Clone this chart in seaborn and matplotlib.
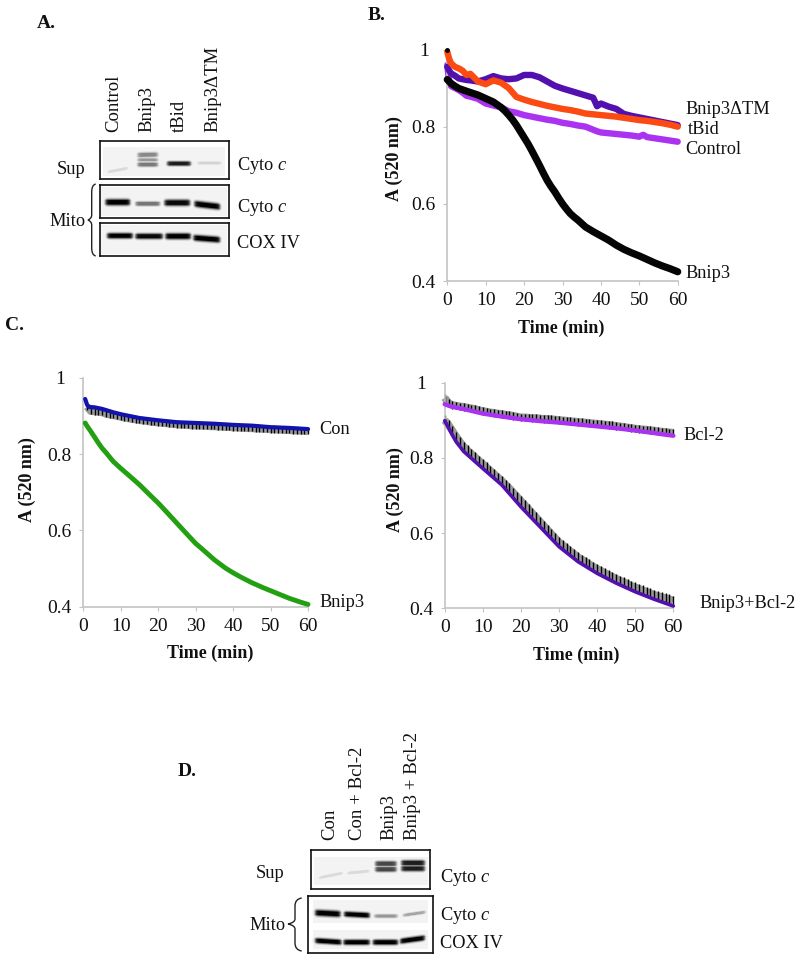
#!/usr/bin/env python3
"""Cytochrome c blots and A520 swelling curves, panels A to D."""

import numpy as np
import matplotlib
matplotlib.use('Agg')
import matplotlib.pyplot as plt
from matplotlib.path import Path
from matplotlib.patches import PathPatch
import seaborn as sns

# Panel B
t_b = [0, 0.5, 1, 2, 3, 4, 5, 6, 8, 10, 12, 14, 16, 18, 20, 22, 24, 26, 28, 30, 32, 34, 36, 38, 39, 40,
       42, 44, 46, 48, 50, 51, 52, 54, 56, 58, 60]
b_control = [0.960, 0.915, 0.905, 0.900, 0.895, 0.888, 0.880, 0.878, 0.872, 0.860, 0.855, 0.850, 0.840, 0.836, 0.830,
             0.826, 0.822, 0.818, 0.815, 0.810, 0.807, 0.803, 0.800, 0.792, 0.788, 0.785, 0.783, 0.781, 0.779, 0.777,
             0.774, 0.779, 0.773, 0.770, 0.767, 0.764, 0.761]
b_delta = [0.955, 0.945, 0.938, 0.932, 0.925, 0.923, 0.921, 0.920, 0.917, 0.923, 0.931, 0.925, 0.923, 0.925, 0.934,
           0.934, 0.928, 0.917, 0.906, 0.899, 0.893, 0.887, 0.881, 0.875, 0.853, 0.860, 0.852, 0.846, 0.833, 0.828,
           0.824, 0.822, 0.820, 0.816, 0.812, 0.808, 0.804]
b_tbid = [0.994, 0.975, 0.964, 0.955, 0.951, 0.945, 0.934, 0.937, 0.917, 0.910, 0.920, 0.914, 0.900, 0.877, 0.870,
          0.864, 0.859, 0.854, 0.850, 0.846, 0.843, 0.839, 0.834, 0.832, 0.831, 0.830, 0.828, 0.826, 0.823, 0.820,
          0.817, 0.816, 0.815, 0.812, 0.809, 0.805, 0.800]
t_bk = [0, 1, 2, 3, 5, 8, 10, 12, 14, 15, 16, 17, 18, 19, 20, 21, 22, 23, 24, 25, 26, 27, 28, 29, 30, 31, 32, 33, 34,
        35, 36, 38, 40, 42, 44, 46, 48, 50, 52, 54, 56, 58, 60]
b_bnip3 = [0.922, 0.912, 0.905, 0.899, 0.892, 0.882, 0.873, 0.864, 0.850, 0.841, 0.830, 0.818, 0.804, 0.788, 0.772,
           0.756, 0.738, 0.719, 0.700, 0.680, 0.661, 0.645, 0.631, 0.615, 0.600, 0.587, 0.575, 0.566, 0.558, 0.549,
           0.540, 0.528, 0.517, 0.506, 0.493, 0.482, 0.473, 0.465, 0.456, 0.447, 0.439, 0.432, 0.424]

# Panel C left
t_c1 = [0.5, 1, 1.5, 3, 5, 6, 8, 10, 15, 20, 25, 30, 35, 40, 45, 50, 55, 60]
con_blue = [0.945, 0.930, 0.924, 0.923, 0.919, 0.916, 0.910, 0.905, 0.895, 0.889, 0.884, 0.882, 0.880, 0.877, 0.875,
            0.871, 0.869, 0.866]
t_green = [0.5, 1, 2, 3, 4, 5, 6, 8, 10, 12, 15, 18, 20, 22, 25, 28, 30, 32, 35, 38, 40, 42, 45, 48, 50, 52, 55, 58, 60]
bnip3_green = [0.882, 0.874, 0.860, 0.845, 0.830, 0.816, 0.805, 0.781, 0.763, 0.746, 0.720, 0.691, 0.672, 0.651, 0.619,
               0.587, 0.566, 0.549, 0.523, 0.501, 0.489, 0.478, 0.463, 0.450, 0.442, 0.434, 0.422, 0.412, 0.406]
t_min = list(range(1, 61))
con_black = [0.925, 0.913, 0.912, 0.911, 0.910, 0.906, 0.904, 0.902, 0.900, 0.898, 0.896, 0.894, 0.892, 0.891, 0.889,
             0.888, 0.887, 0.885, 0.884, 0.883, 0.882, 0.881, 0.880, 0.879, 0.878, 0.877, 0.877, 0.876, 0.875, 0.875,
             0.875, 0.874, 0.874, 0.873, 0.873, 0.872, 0.872, 0.871, 0.871, 0.870, 0.870, 0.869, 0.869, 0.868, 0.868,
             0.867, 0.867, 0.866, 0.866, 0.865, 0.865, 0.864, 0.864, 0.863, 0.863, 0.862, 0.862, 0.861, 0.861, 0.860]
con_err = 0.008

# Panel C right
t_c2 = [0, 1, 2, 3, 5, 10, 15, 20, 25, 30, 35, 40, 45, 50, 55, 60]
bcl2_magenta = [0.943, 0.939, 0.936, 0.934, 0.930, 0.918, 0.910, 0.903, 0.898, 0.894, 0.889, 0.884, 0.879, 0.873,
                0.866, 0.859]
both_purple = [0.899, 0.880, 0.861, 0.843, 0.817, 0.772, 0.728, 0.670, 0.617, 0.564, 0.524, 0.493, 0.467, 0.444,
               0.424, 0.406]
t_hatch = list(range(0, 61))
bcl2_black = [0.960, 0.946, 0.941, 0.939, 0.937, 0.936, 0.934, 0.932, 0.930, 0.927, 0.925, 0.923, 0.921, 0.920, 0.918,
              0.917, 0.915, 0.914, 0.912, 0.910, 0.908, 0.908, 0.907, 0.906, 0.906, 0.905, 0.904, 0.904, 0.903, 0.902,
              0.901, 0.900, 0.899, 0.898, 0.897, 0.896, 0.895, 0.894, 0.893, 0.892, 0.891, 0.890, 0.889, 0.888, 0.887,
              0.885, 0.884, 0.883, 0.881, 0.880, 0.878, 0.877, 0.876, 0.875, 0.874, 0.873, 0.871, 0.870, 0.869, 0.868,
              0.867]
both_black = [0.900, 0.888, 0.873, 0.857, 0.843, 0.830, 0.820, 0.811, 0.802, 0.793, 0.784, 0.775, 0.766, 0.757, 0.748,
              0.739, 0.729, 0.719, 0.708, 0.697, 0.686, 0.675, 0.664, 0.653, 0.642, 0.631, 0.620, 0.609, 0.598, 0.587,
              0.576, 0.568, 0.560, 0.552, 0.544, 0.536, 0.530, 0.524, 0.517, 0.511, 0.505, 0.500, 0.494, 0.489, 0.484,
              0.479, 0.474, 0.470, 0.465, 0.460, 0.456, 0.452, 0.448, 0.444, 0.440, 0.436, 0.433, 0.430, 0.427, 0.424,
              0.421]
bcl2_err = 0.010
both_err = 0.013

x_ticks = [0, 10, 20, 30, 40, 50, 60]
y_ticks = [0.4, 0.6, 0.8, 1]
y_labels = ['0.4', '0.6', '0.8', '1']

# Blot band darkness per lane, 0 is white and 1 is black
a_lanes = ['Control', 'Bnip3', 'tBid', 'Bnip3\u0394TM']
a_sup_dark = [0.25, 0.55, 0.50, 0.60, 0.90, 0.28]
a_mito_dark = [1.0, 0.62, 0.97, 1.0]
a_cox_dark = [1.0, 0.97, 1.0, 1.0]
d_lanes = ['Con', 'Con + Bcl-2', 'Bnip3', 'Bnip3 + Bcl-2']
d_sup_dark = [0.25, 0.25, 0.78, 0.78, 0.90, 0.90]
d_mito_dark = [1.0, 1.0, 0.50, 0.45]
d_cox_dark = [1.0, 1.0, 1.0, 1.0]

sns.set_style('white')
plt.rcParams['font.family'] = ['Liberation Serif', 'DejaVu Serif']
plt.rcParams['mathtext.fontset'] = 'custom'
plt.rcParams['mathtext.rm'] = 'Liberation Serif'
plt.rcParams['mathtext.it'] = 'Liberation Serif:italic'

W, H = 800, 960
TXT = '#111111'
fig = plt.figure(figsize=(W / 100, H / 100), dpi=100, facecolor='white')

# page axes in image pixels, for the annotations
page = fig.add_axes([0, 0, 1, 1], zorder=5)
page.set_xlim(0, W)
page.set_ylim(H, 0)
page.axis('off')


def px_axes(x0, y0, x1, y1):
    return fig.add_axes([x0 / W, 1 - y1 / H, (x1 - x0) / W, (y1 - y0) / H])


def curve_axes(x0, y0, x1, y1, xlabel_pos, ylabel_pos):
    ax = px_axes(x0, y0, x1, y1)
    ax.patch.set_alpha(0)
    ax.set_xlim(0, 60)
    ax.set_ylim(0.4, 1)
    sns.despine(ax=ax)
    for side in ['left', 'bottom']:
        ax.spines[side].set_color('#c4c4c4')
        ax.spines[side].set_linewidth(1.2)
    ax.set_xticks(x_ticks)
    ax.set_yticks(y_ticks)
    ax.set_yticklabels(y_labels, ha='center', fontsize=14, color=TXT)
    ax.set_xticklabels([str(v) for v in x_ticks], fontsize=14, color=TXT)
    ax.tick_params(axis='y', length=3, color='#c4c4c4', direction='out', pad=14, left=True)
    ax.tick_params(axis='x', length=3, color='#c4c4c4', direction='out', pad=5, bottom=True)
    ax.set_xlabel('Time (min)', fontsize=13, fontweight='bold', color=TXT)
    ax.set_ylabel('A (520 nm)', fontsize=13, fontweight='bold', color=TXT)
    ax.xaxis.set_label_coords(*xlabel_pos, transform=page.transData)
    ax.yaxis.set_label_coords(*ylabel_pos, transform=page.transData)
    ax.xaxis.label.set_va('center')
    ax.yaxis.label.set_va('center')
    return ax


def curve(ax, x, y, color, lw, z=3):
    sns.lineplot(x=x, y=y, color=color, linewidth=lw, ax=ax, errorbar=None, clip_on=False, zorder=z,
                 solid_capstyle='round')


def hatched(ax, x, y, err, z=2):
    sns.lineplot(x=x, y=y, color='#9a9a9a', linewidth=5.5, ax=ax, errorbar=None, clip_on=False, zorder=z,
                 solid_capstyle='butt')
    ax.errorbar(x, y, yerr=err, fmt='none', ecolor='black', elinewidth=1.0, clip_on=False, zorder=z + 0.5)


# Panel B
ax_b = curve_axes(447.3, 49.5, 677.7, 281, (561, 328), (394, 159))
curve(ax_b, t_b, b_control, '#aa33f2', 4.6, 2)
curve(ax_b, t_b, b_delta, '#5210ae', 4.6, 3)
curve(ax_b, t_bk, b_bnip3, '#050505', 5.2, 4)
curve(ax_b, t_b, b_tbid, '#fb4a12', 4.6, 5)
ax_b.plot([0], [1.0], marker='o', ms=2.5, color='black', clip_on=False, zorder=6)

# Panel C left
ax_c1 = curve_axes(83.3, 378, 308, 606.7, (210, 653), (27, 480))
hatched(ax_c1, t_min, con_black, con_err)
curve(ax_c1, t_c1, con_blue, '#1212ad', 3.0, 4)
curve(ax_c1, t_green, bnip3_green, '#22a012', 3.5, 4)

# Panel C right
ax_c2 = curve_axes(444.7, 382.7, 673.3, 608.3, (576, 655), (395, 490))
hatched(ax_c2, t_hatch, bcl2_black, bcl2_err)
hatched(ax_c2, t_hatch, both_black, both_err)
curve(ax_c2, t_c2, bcl2_magenta, '#aa33f2', 3.2, 4)
curve(ax_c2, t_c2, both_purple, '#5210ae', 2.6, 4)


def blot(box, insets, bands, darks):
    """box and insets in page pixels; bands are (x0, x1, y_left, y_right, thickness)."""
    x0, y0, x1, y1 = box
    xs = np.arange(x0, x1, 0.5) + 0.25
    ys = np.arange(y0, y1, 0.5) + 0.25
    gx, gy = np.meshgrid(xs, ys)
    mat = np.zeros_like(gx)
    for ix0, iy0, ix1, iy1 in insets:
        mat[(gx > ix0) & (gx < ix1) & (gy > iy0) & (gy < iy1)] = 0.10
    for (bx0, bx1, yl, yr, th), dark in zip(bands, darks):
        frac = (gx - bx0) / (bx1 - bx0)
        centre = yl + (yr - yl) * frac
        across = np.minimum(1.0, 1.25 * np.exp(-((gy - centre) / (th * 1.3)) ** 2))
        along = 0.5 * (np.tanh((gx - bx0) / 2.0) - np.tanh((gx - bx1) / 2.0))
        mat = np.maximum(mat, dark * across * along)
    ax = px_axes(x0, y0, x1, y1)
    sns.heatmap(mat, ax=ax, vmin=0, vmax=1, cmap='Greys', cbar=False, xticklabels=False, yticklabels=False)
    for spine in ax.spines.values():
        spine.set_visible(True)
        spine.set_color('#111111')
        spine.set_linewidth(1.2)


# Panel A blots
blot((99.5, 140.7, 228.5, 179.3), [(102.7, 146.7, 225, 176.7)],
     [(106.7, 128.3, 172.5, 168.5, 1.5), (137, 158, 155, 154.5, 2.2), (137, 158, 160, 160, 1.8),
      (137, 158, 165, 165, 2.0), (166.7, 190.7, 164, 164, 2.0), (196.7, 221.7, 163.5, 163.5, 1.5)], a_sup_dark)
blot((99.5, 185, 229, 218.3), [(101, 187, 227, 216.5)],
     [(105, 130, 202.5, 202.5, 2.7), (135, 160, 204, 204, 2.0), (164, 190, 203, 203, 2.7),
      (194, 220, 204, 207, 2.7)], a_mito_dark)
blot((99.5, 223, 229, 256.3), [(101, 225, 227, 254.5)],
     [(106.7, 132.7, 236, 236, 2.4), (135, 162.7, 236.5, 236.5, 2.4), (165, 190.7, 236.5, 236.5, 2.6),
      (193, 220, 238, 240, 2.6)], a_cox_dark)

# Panel D blots
blot((310.7, 850, 430, 889), [(314, 856.7, 428, 885)],
     [(318.3, 343.3, 877.7, 872.7, 1.5), (346.7, 370, 873, 870.7, 1.5), (375, 396.7, 863.5, 863.5, 2.3),
      (375, 396.7, 869, 869, 2.3), (401, 425, 862.7, 862.7, 2.4), (401, 425, 868.3, 868.3, 2.4)], d_sup_dark)
blot((308.3, 895.7, 432.7, 953.3), [(313.3, 900, 428.3, 922.7), (313.3, 930, 428.3, 949.3)],
     [(315, 340.7, 912.7, 914, 2.7), (344, 370, 914, 915.3, 2.3), (374, 398, 916, 916, 1.7),
      (402.7, 426, 915.3, 912, 1.5), (315, 341.7, 941, 942.7, 2.3), (343.3, 370, 942.7, 942.7, 2.3),
      (372.7, 398.3, 942.7, 942.7, 2.3), (400, 425, 941.7, 938.3, 2.3)], d_mito_dark + d_cox_dark)


def brace(x_end, x_spine, x_tip, y0, y_mid, y1):
    verts = [(x_end, y0), (x_spine, y0 + 1), (x_spine, y0 + 8), (x_spine, y_mid - 5), (x_spine, y_mid - 1.5),
             (x_tip, y_mid), (x_spine, y_mid + 1.5), (x_spine, y_mid + 5), (x_spine, y1 - 8),
             (x_spine, y1 - 1), (x_end, y1)]
    codes = [Path.MOVETO, Path.CURVE3, Path.CURVE3, Path.LINETO, Path.CURVE3, Path.CURVE3,
             Path.CURVE3, Path.CURVE3, Path.LINETO, Path.CURVE3, Path.CURVE3]
    page.add_patch(PathPatch(Path(verts, codes), fill=False, edgecolor='#222222', linewidth=1.0))


brace(95.7, 91.7, 88, 184, 220, 256)
brace(301.7, 295, 288, 898, 924, 951)


def label(x, y, s, **kw):
    kw.setdefault('fontsize', 13.2)
    kw.setdefault('color', TXT)
    kw.setdefault('va', 'center')
    page.text(x, y, s, **kw)


# panel letters
for lx, ly, s in [(37, 23, 'A.'), (368, 15, 'B.'), (5, 326, 'C.'), (178, 772, 'D.')]:
    label(lx, ly, s, fontsize=14, fontweight='bold')

# curve labels
label(685, 110, 'Bnip3\u0394TM')
label(687.7, 130, 'tBid')
label(685, 149, 'Control')
label(685, 274, 'Bnip3')
label(319, 429, 'Con')
label(319, 602.7, 'Bnip3')
label(683, 435, 'Bcl-2')
label(699, 603, 'Bnip3+Bcl-2')

# blot labels
for lx, s in zip([114, 147, 179, 213], a_lanes):
    label(lx, 132, s, rotation=90, ha='center', va='bottom', fontsize=13.5)
for lx, s in zip([330, 357.7, 389, 412.7], d_lanes):
    label(lx, 840, s, rotation=90, ha='center', va='bottom', fontsize=13.5)
label(57, 169, 'Sup')
label(49, 221, 'Mito')
label(237, 165, r'Cyto $\mathit{c}$')
label(237, 207, r'Cyto $\mathit{c}$')
label(237, 244, 'COX IV')
label(255.7, 874, 'Sup')
label(249, 925, 'Mito')
label(440, 877, r'Cyto $\mathit{c}$')
label(440, 916, r'Cyto $\mathit{c}$')
label(440, 943, 'COX IV')

fig.savefig('out.png', dpi=100, facecolor='white')
plt.close(fig)
